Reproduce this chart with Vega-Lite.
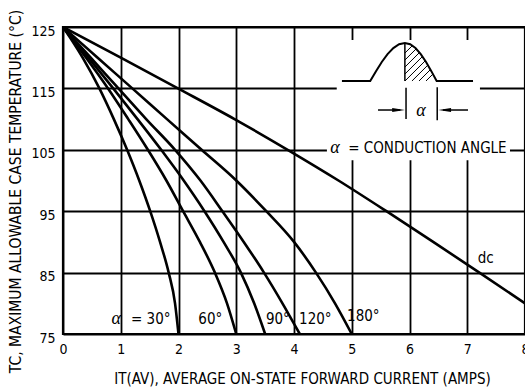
{
  "$schema": "https://vega.github.io/schema/vega-lite/v6.json",
  "width": 462,
  "height": 307,
  "autosize": {"type": "none"},
  "padding": {"left": 63, "top": 27, "right": 0, "bottom": 54},
  "background": "white",
  "config": {
    "font": "DejaVu Sans Condensed",
    "view": {"stroke": "black", "strokeWidth": 2.2},
    "axis": {
      "grid": true, "gridColor": "black", "gridWidth": 1.8, "gridOpacity": 1,
      "domain": false, "ticks": false,
      "labelColor": "black", "titleColor": "black",
      "labelFont": "DejaVu Sans Condensed", "titleFont": "DejaVu Sans Condensed",
      "labelFontSize": 14, "titleFontSize": 15, "titleFontWeight": "normal",
      "labelFlush": false, "labelOverlap": false
    }
  },
  "datasets": {
    "curves": [
      {"series": "30", "x": 0, "y": 125}, {"series": "30", "x": 0.34, "y": 120}, {"series": "30", "x": 0.63, "y": 115}, {"series": "30", "x": 0.88, "y": 110}, {"series": "30", "x": 1.11, "y": 105}, {"series": "30", "x": 1.32, "y": 100}, {"series": "30", "x": 1.51, "y": 95}, {"series": "30", "x": 1.68, "y": 90}, {"series": "30", "x": 1.83, "y": 85}, {"series": "30", "x": 1.94, "y": 80}, {"series": "30", "x": 2.0, "y": 75},
      {"series": "60", "x": 0, "y": 125}, {"series": "60", "x": 0.40, "y": 120}, {"series": "60", "x": 0.78, "y": 115}, {"series": "60", "x": 1.13, "y": 110}, {"series": "60", "x": 1.47, "y": 105}, {"series": "60", "x": 1.79, "y": 100}, {"series": "60", "x": 2.08, "y": 95}, {"series": "60", "x": 2.37, "y": 90}, {"series": "60", "x": 2.63, "y": 85}, {"series": "60", "x": 2.84, "y": 80}, {"series": "60", "x": 3.0, "y": 75},
      {"series": "90", "x": 0, "y": 125}, {"series": "90", "x": 0.44, "y": 120}, {"series": "90", "x": 0.87, "y": 115}, {"series": "90", "x": 1.29, "y": 110}, {"series": "90", "x": 1.70, "y": 105}, {"series": "90", "x": 2.09, "y": 100}, {"series": "90", "x": 2.45, "y": 95}, {"series": "90", "x": 2.78, "y": 90}, {"series": "90", "x": 3.08, "y": 85}, {"series": "90", "x": 3.31, "y": 80}, {"series": "90", "x": 3.5, "y": 75},
      {"series": "120", "x": 0, "y": 125}, {"series": "120", "x": 0.48, "y": 120}, {"series": "120", "x": 0.96, "y": 115}, {"series": "120", "x": 1.44, "y": 110}, {"series": "120", "x": 1.94, "y": 105}, {"series": "120", "x": 2.38, "y": 100}, {"series": "120", "x": 2.76, "y": 95}, {"series": "120", "x": 3.13, "y": 90}, {"series": "120", "x": 3.48, "y": 85}, {"series": "120", "x": 3.80, "y": 80}, {"series": "120", "x": 4.1, "y": 75},
      {"series": "180", "x": 0, "y": 125}, {"series": "180", "x": 0.60, "y": 120}, {"series": "180", "x": 1.20, "y": 115}, {"series": "180", "x": 1.80, "y": 110}, {"series": "180", "x": 2.40, "y": 105}, {"series": "180", "x": 3.0, "y": 100}, {"series": "180", "x": 3.52, "y": 95}, {"series": "180", "x": 4.0, "y": 90}, {"series": "180", "x": 4.38, "y": 85}, {"series": "180", "x": 4.71, "y": 80}, {"series": "180", "x": 5.0, "y": 75},
      {"series": "dc", "x": 0, "y": 125}, {"series": "dc", "x": 1.0, "y": 120}, {"series": "dc", "x": 1.99, "y": 115}, {"series": "dc", "x": 2.97, "y": 110}, {"series": "dc", "x": 3.89, "y": 105}, {"series": "dc", "x": 4.77, "y": 100}, {"series": "dc", "x": 5.6, "y": 95}, {"series": "dc", "x": 6.41, "y": 90}, {"series": "dc", "x": 7.21, "y": 85}, {"series": "dc", "x": 8.0, "y": 80}
    ],
    "blanks": [
      {"x": 4.74, "x2": 7.22, "y": 103.3, "y2": 122.9},
      {"x": 4.57, "x2": 7.74, "y": 103.7, "y2": 106.6}
    ],
    "wave": [
      {"x": 4.83, "y": 116.2}, {"x": 5.32, "y": 116.2}, {"x": 5.42, "y": 117.81}, {"x": 5.52, "y": 119.3}, {"x": 5.62, "y": 120.58}, {"x": 5.72, "y": 121.57}, {"x": 5.82, "y": 122.19}, {"x": 5.92, "y": 122.4},
      {"x": 6.012, "y": 122.19}, {"x": 6.103, "y": 121.57}, {"x": 6.195, "y": 120.58}, {"x": 6.287, "y": 119.3}, {"x": 6.378, "y": 117.81}, {"x": 6.47, "y": 116.2}, {"x": 7.10, "y": 116.2}
    ],
    "segments": [
      {"x": 5.92, "y": 116.2, "x2": 5.92, "y2": 122.4},
      {"x": 5.94, "y": 110.0, "x2": 5.94, "y2": 115.1},
      {"x": 6.48, "y": 109.8, "x2": 6.48, "y2": 115.2},
      {"x": 5.455, "y": 111.48, "x2": 5.84, "y2": 111.48},
      {"x": 6.58, "y": 111.48, "x2": 7.013, "y2": 111.48}
    ],
    "hatch": [
      {"x": 5.922, "y": 120.77, "x2": 6.050, "y2": 121.97},
      {"x": 5.922, "y": 119.63, "x2": 6.118, "y2": 121.47},
      {"x": 5.922, "y": 118.49, "x2": 6.175, "y2": 120.86},
      {"x": 5.922, "y": 117.35, "x2": 6.225, "y2": 120.20},
      {"x": 5.922, "y": 116.21, "x2": 6.274, "y2": 119.51},
      {"x": 6.043, "y": 116.21, "x2": 6.320, "y2": 118.81},
      {"x": 6.165, "y": 116.21, "x2": 6.364, "y2": 118.08},
      {"x": 6.286, "y": 116.21, "x2": 6.407, "y2": 117.35}
    ],
    "headsRight": [{"x": 5.81, "y": 111.48}],
    "headsLeft": [{"x": 6.61, "y": 111.48}],
    "labels": [
      {"label": "= 30°", "x": 1.52, "y": 77.4},
      {"label": "60°", "x": 2.55, "y": 77.4},
      {"label": "90°", "x": 3.72, "y": 77.4},
      {"label": "120°", "x": 4.37, "y": 77.4},
      {"label": "180°", "x": 5.2, "y": 78.0},
      {"label": "dc", "x": 7.32, "y": 87.3},
      {"label": "= CONDUCTION ANGLE", "x": 6.31, "y": 105.3}
    ],
    "greek": [
      {"label": "α", "x": 0.92, "y": 77.4},
      {"label": "α", "x": 4.71, "y": 105.3},
      {"label": "α", "x": 6.2, "y": 111.4}
    ]
  },
  "layer": [
    {
      "data": {"name": "blanks"},
      "mark": {"type": "rect", "fill": "white", "stroke": null},
      "encoding": {
        "x": {"field": "x", "type": "quantitative", "scale": {"domain": [0, 8], "nice": false},
          "axis": {"values": [0, 1, 2, 3, 4, 5, 6, 7, 8], "format": "d", "labelPadding": 8, "labelBaseline": "top",
            "title": "IT(AV), AVERAGE ON-STATE FORWARD CURRENT (AMPS)",
            "titleX": 239, "titleY": 49, "titleBaseline": "alphabetic", "titleAlign": "center"}},
        "x2": {"field": "x2"},
        "y": {"field": "y", "type": "quantitative", "scale": {"domain": [75, 125], "nice": false, "zero": false},
          "axis": {"values": [75, 80, 85, 90, 95, 100, 105, 110, 115, 120, 125],
            "labelExpr": "datum.value % 10 == 5 ? datum.label : ''",
            "labelPadding": 8, "labelOffset": 4, "labelBaseline": "middle",
            "title": "TC, MAXIMUM ALLOWABLE CASE TEMPERATURE (°C)", "titleFontSize": 15.5,
            "titleX": -43, "titleY": 164, "titleAngle": -90, "titleBaseline": "alphabetic", "titleAlign": "center"}},
        "y2": {"field": "y2"}
      }
    },
    {
      "data": {"name": "curves"},
      "mark": {"type": "line", "color": "black", "strokeWidth": 2.6, "interpolate": "monotone", "clip": true},
      "encoding": {
        "x": {"field": "x", "type": "quantitative"},
        "y": {"field": "y", "type": "quantitative"},
        "detail": {"field": "series", "type": "nominal"}
      }
    },
    {
      "data": {"name": "wave"},
      "mark": {"type": "line", "color": "black", "strokeWidth": 2},
      "encoding": {
        "x": {"field": "x", "type": "quantitative"},
        "y": {"field": "y", "type": "quantitative"}
      }
    },
    {
      "data": {"name": "segments"},
      "mark": {"type": "rule", "color": "black", "strokeWidth": 1.5},
      "encoding": {
        "x": {"field": "x", "type": "quantitative"},
        "y": {"field": "y", "type": "quantitative"},
        "x2": {"field": "x2"},
        "y2": {"field": "y2"}
      }
    },
    {
      "data": {"name": "hatch"},
      "mark": {"type": "rule", "color": "black", "strokeWidth": 1},
      "encoding": {
        "x": {"field": "x", "type": "quantitative"},
        "y": {"field": "y", "type": "quantitative"},
        "x2": {"field": "x2"},
        "y2": {"field": "y2"}
      }
    },
    {
      "data": {"name": "headsRight"},
      "mark": {"type": "point", "shape": "M-1,-0.3L1,0L-1,0.3Z", "filled": true, "color": "black", "size": 160, "opacity": 1},
      "encoding": {
        "x": {"field": "x", "type": "quantitative"},
        "y": {"field": "y", "type": "quantitative"}
      }
    },
    {
      "data": {"name": "headsLeft"},
      "mark": {"type": "point", "shape": "M1,-0.3L-1,0L1,0.3Z", "filled": true, "color": "black", "size": 160, "opacity": 1},
      "encoding": {
        "x": {"field": "x", "type": "quantitative"},
        "y": {"field": "y", "type": "quantitative"}
      }
    },
    {
      "data": {"name": "labels"},
      "mark": {"type": "text", "font": "DejaVu Sans Condensed", "fontSize": 15, "color": "black", "align": "center", "baseline": "middle"},
      "encoding": {
        "x": {"field": "x", "type": "quantitative"},
        "y": {"field": "y", "type": "quantitative"},
        "text": {"field": "label"}
      }
    },
    {
      "data": {"name": "greek"},
      "mark": {"type": "text", "font": "Liberation Serif", "fontStyle": "italic", "fontSize": 18, "color": "black", "align": "center", "baseline": "middle"},
      "encoding": {
        "x": {"field": "x", "type": "quantitative"},
        "y": {"field": "y", "type": "quantitative"},
        "text": {"field": "label"}
      }
    }
  ]
}
